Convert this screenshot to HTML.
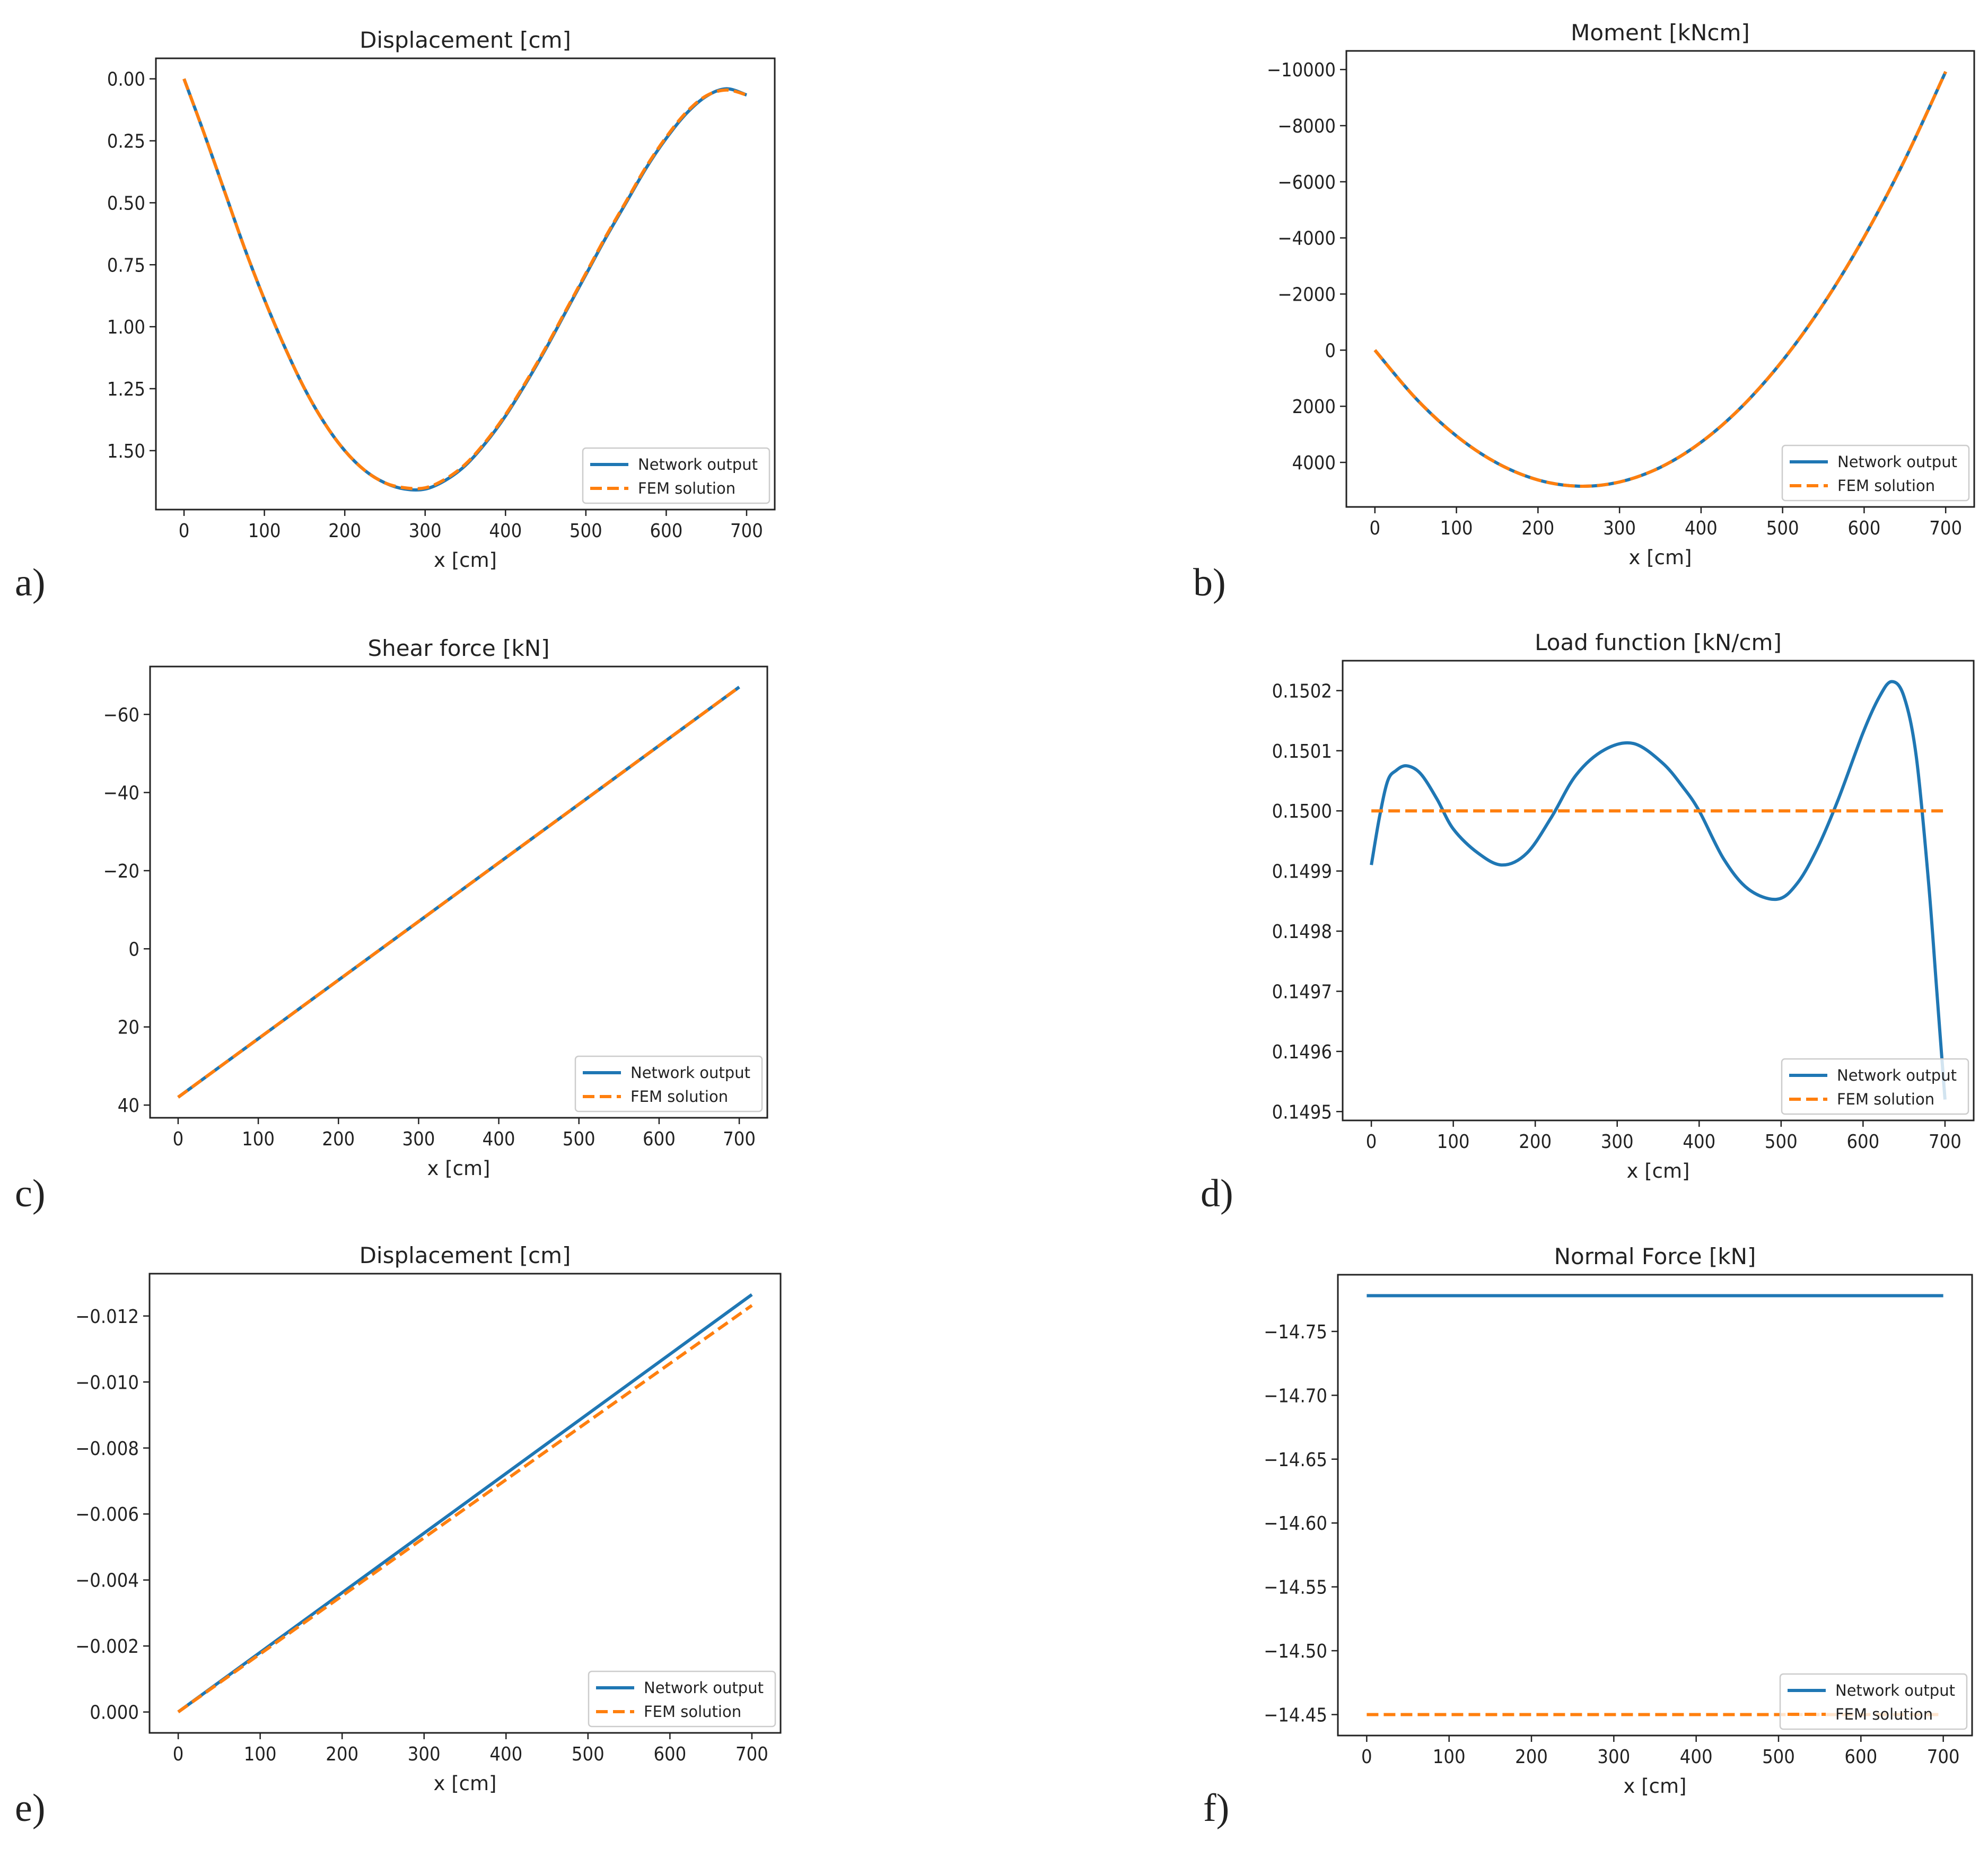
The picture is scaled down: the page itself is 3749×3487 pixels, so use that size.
<!DOCTYPE html>
<html><head><meta charset="utf-8"><style>
html,body{margin:0;padding:0;background:#fff;}
svg{display:block;font-family:"DejaVu Sans","Liberation Sans",sans-serif;}
</style></head><body>
<svg id="fig" width="3749" height="3487" viewBox="0 0 3749 3487" xmlns="http://www.w3.org/2000/svg"></svg>
<script>
// ---- data ----
const aX=[0,25,50,75,100,125,150,175,200,225,250,275,300,325,350,375,400,425,450,475,500,525,550,575,600,625,650,675,700];
const aNet=[0,0.22,0.45,0.68,0.89,1.08,1.25,1.39,1.50,1.58,1.63,1.655,1.655,1.62,1.56,1.47,1.36,1.23,1.09,0.94,0.79,0.64,0.50,0.36,0.24,0.14,0.07,0.04,0.065];
const aFem=[0,0.22,0.45,0.68,0.89,1.08,1.25,1.39,1.50,1.58,1.63,1.65,1.65,1.615,1.555,1.465,1.355,1.225,1.085,0.935,0.785,0.635,0.495,0.355,0.235,0.135,0.068,0.045,0.065];
const aTicks=[0,0.25,0.5,0.75,1.0,1.25,1.5];
const aTickLabels=["0.00","0.25","0.50","0.75","1.00","1.25","1.50"];

const bX=[0,50,100,150,200,250,300,350,400,450,500,550,600,650,700];
const bNet=[0,1715,3058,4028,4624,4848,4699,4177,3282,2014,372,-1641,-4029,-6790,-9925];
const bFem=[0,1715,3058,4028,4624,4848,4699,4177,3282,2014,372,-1641,-4029,-6790,-9925];
const bTicks=[-10000,-8000,-6000,-4000,-2000,0,2000,4000];
const bTickLabels=["\u221210000","\u22128000","\u22126000","\u22124000","\u22122000","0","2000","4000"];

const cX=[0,100,200,300,400,500,600,700];
const cNet=[38,23,8,-7,-22,-37,-52,-67];
const cFem=[38,23,8,-7,-22,-37,-52,-67];
const cTicks=[-60,-40,-20,0,20,40];
const cTickLabels=["\u221260","\u221240","\u221220","0","20","40"];

const dX=[0,10,20,30,43,60,80,100,130,160,190,220,250,285,320,355,380,400,430,460,495,520,545,570,600,620,635,650,665,680,690,700];
const dNet=[0.14991,0.14999,0.15005,0.150067,0.150075,0.150062,0.15002,0.14997,0.14993,0.149910,0.14993,0.14999,0.15006,0.150102,0.150112,0.15008,0.15004,0.15000,0.14992,0.14987,0.149853,0.14988,0.14994,0.15002,0.15013,0.15019,0.150215,0.15019,0.15009,0.14988,0.14970,0.14952];
const dFemX=[0,700];
const dFem=[0.15,0.15];
const dTicks=[0.1502,0.1501,0.15,0.1499,0.1498,0.1497,0.1496,0.1495];
const dTickLabels=["0.1502","0.1501","0.1500","0.1499","0.1498","0.1497","0.1496","0.1495"];

const eX=[0,700];
const eNet=[0,-0.01265];
const eFem=[0,-0.01232];
const eTicks=[-0.012,-0.010,-0.008,-0.006,-0.004,-0.002,0];
const eTickLabels=["\u22120.012","\u22120.010","\u22120.008","\u22120.006","\u22120.004","\u22120.002","0.000"];

const fX=[0,700];
const fNet=[-14.778,-14.778];
const fFem=[-14.45,-14.45];
const fTicks=[-14.75,-14.70,-14.65,-14.60,-14.55,-14.50,-14.45];
const fTickLabels=["\u221214.75","\u221214.70","\u221214.65","\u221214.60","\u221214.55","\u221214.50","\u221214.45"];

const xTicks=[0,100,200,300,400,500,600,700];
const xTickLabels=["0","100","200","300","400","500","600","700"];

const NS="http://www.w3.org/2000/svg";
const svg=document.getElementById('fig');
function mk(tag,attrs,parent,text){const e=document.createElementNS(NS,tag);for(const k in attrs)e.setAttribute(k,attrs[k]);if(text!==undefined)e.textContent=text;(parent||svg).appendChild(e);return e;}

function smoothPath(P){
  if(P.length<3) return 'M'+P.map(p=>p[0].toFixed(1)+','+p[1].toFixed(1)).join(' L');
  let d='M'+P[0][0].toFixed(1)+','+P[0][1].toFixed(1);
  for(let i=0;i<P.length-1;i++){
    const p0=P[Math.max(0,i-1)],p1=P[i],p2=P[i+1],p3=P[Math.min(P.length-1,i+2)];
    const c1=[p1[0]+(p2[0]-p0[0])/6,p1[1]+(p2[1]-p0[1])/6];
    const c2=[p2[0]-(p3[0]-p1[0])/6,p2[1]-(p3[1]-p1[1])/6];
    d+=' C'+c1[0].toFixed(1)+','+c1[1].toFixed(1)+' '+c2[0].toFixed(1)+','+c2[1].toFixed(1)+' '+p2[0].toFixed(1)+','+p2[1].toFixed(1);
  }
  return d;
}

function panel(id,box,title,netX,net,femX,fem,yT,yL,invert,letter,letterPos){
  const g=mk('g',{});
  
  
  const [L,T,R,B]=box;
  const all=net.concat(fem);
  let mn=Math.min(...all),mx=Math.max(...all);const m=(mx-mn)*0.05;mn-=m;mx+=m;
  const xs=v=>L+(v+35)/770*(R-L);
  const ys=v=>invert? T+(v-mn)/(mx-mn)*(B-T) : B-(v-mn)/(mx-mn)*(B-T);
  xTicks.forEach((t,i)=>{const x=xs(t);
    const tk=mk('line',{x1:x,x2:x,y1:B,y2:B+12,stroke:'#222','stroke-width':2.5},g);
    
    
    const tl=mk('text',{x:x,y:B+52,'font-size':36,'text-anchor':'middle',fill:'#222',transform:'translate('+x+',0) scale(0.9,1) translate('+(-x)+',0)'},g,xTickLabels[i]);
    
    
  });
  yT.forEach((t,i)=>{const y=ys(t);
    const tk=mk('line',{x1:L-12,x2:L,y1:y,y2:y,stroke:'#222','stroke-width':2.5},g);
    
    
    const ax=L-20;
    const tl=mk('text',{x:ax,y:y+13,'font-size':36,'text-anchor':'end',fill:'#222',transform:'translate('+ax+',0) scale(0.9,1) translate('+(-ax)+',0)'},g,yL[i]);
    
    
  });
  const pts=(X,Y)=>X.map((x,i)=>[xs(x),ys(Y[i])]);
  const l1=mk('path',{d:smoothPath(pts(netX,net)),fill:'none',stroke:'#1f77b4','stroke-width':6,'stroke-linejoin':'round'},g);
  
  
  const l2=mk('path',{d:smoothPath(pts(femX,fem)),fill:'none',stroke:'#ff7f0e','stroke-width':6,'stroke-dasharray':'22,10'},g);
  
  
  const fr=mk('rect',{x:L,y:T,width:R-L,height:B-T,fill:'none',stroke:'#222','stroke-width':3},g);
  
  
  const tt=mk('text',{x:(L+R)/2,y:T-20,'font-size':42,'text-anchor':'middle',fill:'#222'},g,title);
  
  
  const xl=mk('text',{x:(L+R)/2,y:B+108,'font-size':37,'text-anchor':'middle',fill:'#222'},g,'x [cm]');
  
  
  const lw=352,lh=104,lx=R-lw-10,ly=B-lh-12;
  const lg=mk('g',{},g);
  
  
  mk('rect',{x:lx,y:ly,width:lw,height:lh,rx:6,fill:'rgba(255,255,255,0.8)',stroke:'#ccc','stroke-width':2.5},lg);
  const e1=mk('g',{},lg);
  
  
  mk('line',{x1:lx+14,x2:lx+86,y1:ly+31,y2:ly+31,stroke:'#1f77b4','stroke-width':6},e1);
  mk('text',{x:lx+104,y:ly+41,'font-size':29,fill:'#222'},e1,'Network output');
  const e2=mk('g',{},lg);
  
  
  mk('line',{x1:lx+14,x2:lx+86,y1:ly+76,y2:ly+76,stroke:'#ff7f0e','stroke-width':6,'stroke-dasharray':'22,10'},e2);
  mk('text',{x:lx+104,y:ly+86,'font-size':29,fill:'#222'},e2,'FEM solution');
  const pl=mk('text',{x:letterPos[0],y:letterPos[1],'font-size':74,'font-family':'"Liberation Serif",serif',fill:'#222'},svg,letter);
  
  
}
panel('a',[294,110,1461,961],'Displacement [cm]',aX,aNet,aX,aFem,aTicks,aTickLabels,true,'a)',[28,1123]);
panel('b',[2539,96,3723,956],'Moment [kNcm]',bX,bNet,bX,bFem,bTicks,bTickLabels,true,'b)',[2250,1123]);
panel('c',[283,1257,1447,2108],'Shear force [kN]',cX,cNet,cX,cFem,cTicks,cTickLabels,true,'c)',[28,2275]);
panel('d',[2532,1246,3722,2113],'Load function [kN/cm]',dX,dNet,dFemX,dFem,dTicks,dTickLabels,false,'d)',[2264,2275]);
panel('e',[282,2402,1472,3268],'Displacement [cm]',eX,eNet,eX,eFem,eTicks,eTickLabels,true,'e)',[28,3434]);
panel('f',[2523,2404,3719,3273],'Normal Force [kN]',fX,fNet,fX,fFem,fTicks,fTickLabels,true,'f)',[2269,3434]);
</script>
</body></html>
